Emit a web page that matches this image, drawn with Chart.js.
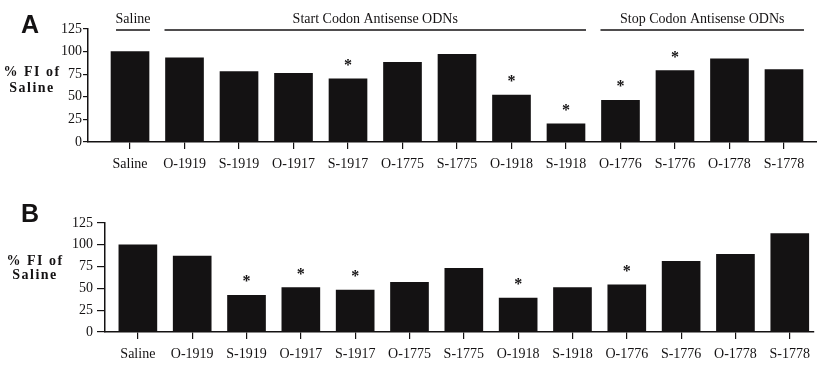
<!DOCTYPE html>
<html>
<head>
<meta charset="utf-8">
<script src="https://cdn.jsdelivr.net/npm/chart.js@4.4.1/dist/chart.umd.min.js"></script>
<style>
    html, body { margin: 0; padding: 0; background: #fff; }
    #wrapA { position: absolute; left: 0; top: 0; }
    #wrapB { position: absolute; left: 0; top: 180px; }
</style>
</head>
<body>
<div id="wrapA"><canvas id="chartA" width="817" height="180"></canvas></div>
<div id="wrapB"><canvas id="chartB" width="817" height="185"></canvas></div>
<script>
// data
const labels = ['Saline', 'O-1919', 'S-1919', 'O-1917', 'S-1917', 'O-1775', 'S-1775',
                'O-1918', 'S-1918', 'O-1776', 'S-1776', 'O-1778', 'S-1778'];
const valuesA = [100, 93, 78, 76, 70, 88, 97, 52, 20, 46, 79, 92, 80];
const valuesB = [100, 87, 42, 51, 48, 57, 73, 39, 51, 54, 81, 89, 113];
// 1 = significant (asterisk)
const starsA = [0, 0, 0, 0, 1, 0, 0, 1, 1, 1, 1, 0, 0];
const starsB = [0, 0, 1, 1, 1, 0, 0, 1, 0, 1, 0, 0, 0];
const yTicks = [0, 25, 50, 75, 100, 125];
const groupsA = [
    { text: 'Saline', from: 0, to: 0 },
    { text: 'Start Codon Antisense ODNs', from: 1, to: 8 },
    { text: 'Stop Codon Antisense ODNs', from: 9, to: 12 }
];

const INK = '#141213';
const SERIF = '"Liberation Serif", "Times New Roman", serif';
Chart.defaults.font.family = SERIF;
Chart.defaults.font.size = 14;
Chart.defaults.color = INK;

const overlay = {
    id: 'overlay',
    afterDraw(chart, args, opts) {
        const ctx = chart.ctx;
        const xs = chart.scales.x, ys = chart.scales.y;
        ctx.save();
        ctx.fillStyle = INK;
        ctx.strokeStyle = INK;

        // asterisks
        ctx.font = 'bold 16px ' + SERIF;
        ctx.textAlign = 'center';
        ctx.textBaseline = 'alphabetic';
        opts.stars.forEach((s, i) => {
            if (!s) return;
            const px = xs.getPixelForValue(i);
            const py = ys.getPixelForValue(opts.values[i]) - 17;
            ctx.fillText('*', px, py + 8);
        });

        // group headers
        ctx.font = '14px ' + SERIF;
        ctx.lineWidth = 1.5;
        (opts.groups || []).forEach(g => {
            let x1 = xs.getPixelForValue(g.from) - 20;
            let x2 = xs.getPixelForValue(g.to) + 20;
            if (g.from === g.to) {
                x1 = xs.getPixelForValue(g.from) - 14;
                x2 = xs.getPixelForValue(g.from) + 20;
            }
            ctx.beginPath();
            ctx.moveTo(x1, 30);
            ctx.lineTo(x2, 30);
            ctx.stroke();
            ctx.fillText(g.text, (x1 + x2) / 2, 23);
        });

        // panel letter
        ctx.font = 'bold 25px "Liberation Sans", Arial, sans-serif';
        ctx.textAlign = 'left';
        ctx.fillText(opts.letter, 21, opts.letterY);

        // y title (spaced out like the original)
        ctx.font = 'bold 14px ' + SERIF;
        ctx.textAlign = 'center';
        ctx.letterSpacing = '1.5px';
        ctx.fillText('% FI of', opts.titleX, opts.titleY);
        ctx.fillText('Saline', opts.titleX, opts.titleY + opts.titleGap);
        ctx.restore();
    }
};

function makeChart(id, values, stars, cfg) {
    return new Chart(document.getElementById(id), {
        type: 'bar',
        data: {
            datasets: [{
                data: values.map((v, i) => ({ x: i, y: v })),
                backgroundColor: INK,
                barThickness: 38
            }]
        },
        options: {
            responsive: false,
            animation: false,
            layout: { padding: { top: cfg.top, left: 0, right: 0, bottom: 0 } },
            scales: {
                x: {
                    type: 'linear',
                    offset: false,
                    min: cfg.xmin,
                    max: cfg.xmax,
                    afterBuildTicks: s => { s.ticks = labels.map((_, i) => ({ value: i })); },
                    afterFit: s => { s.height = cfg.xh; },
                    ticks: {
                        callback: v => labels[v],
                        padding: 7,
                        maxRotation: 0,
                        autoSkip: false
                    },
                    grid: { offset: false, drawOnChartArea: false, tickLength: 7, color: INK, lineWidth: 1.2 },
                    border: { color: INK, width: 1.5 }
                },
                y: {
                    min: 0,
                    max: 125,
                    afterBuildTicks: s => { s.ticks = yTicks.map(v => ({ value: v })); },
                    afterFit: s => { s.width = cfg.yw; },
                    ticks: { padding: cfg.ypad },
                    grid: { drawOnChartArea: false, tickLength: cfg.ytick, color: INK, lineWidth: 1.2 },
                    border: { color: INK, width: 1.5 }
                }
            },
            plugins: {
                legend: { display: false },
                tooltip: { enabled: false },
                overlay: {
                    values: values,
                    stars: stars,
                    groups: cfg.groups,
                    letter: cfg.letter,
                    letterY: cfg.letterY,
                    titleX: cfg.titleX,
                    titleY: cfg.titleY,
                    titleGap: cfg.titleGap
                }
            }
        },
        plugins: [overlay]
    });
}

makeChart('chartA', valuesA, starsA, {
    top: 29, xmin: -0.771, xmax: 12.606, xh: 38, yw: 88, ypad: 1, ytick: 5,
    groups: groupsA, letter: 'A', letterY: 33, titleX: 32, titleY: 76, titleGap: 16
});
makeChart('chartB', valuesB, starsB, {
    top: 43, xmin: -0.605, xmax: 12.44, xh: 33, yw: 105, ypad: 4, ytick: 8,
    groups: [], letter: 'B', letterY: 42, titleX: 35, titleY: 85, titleGap: 14
});
</script>
</body>
</html>
